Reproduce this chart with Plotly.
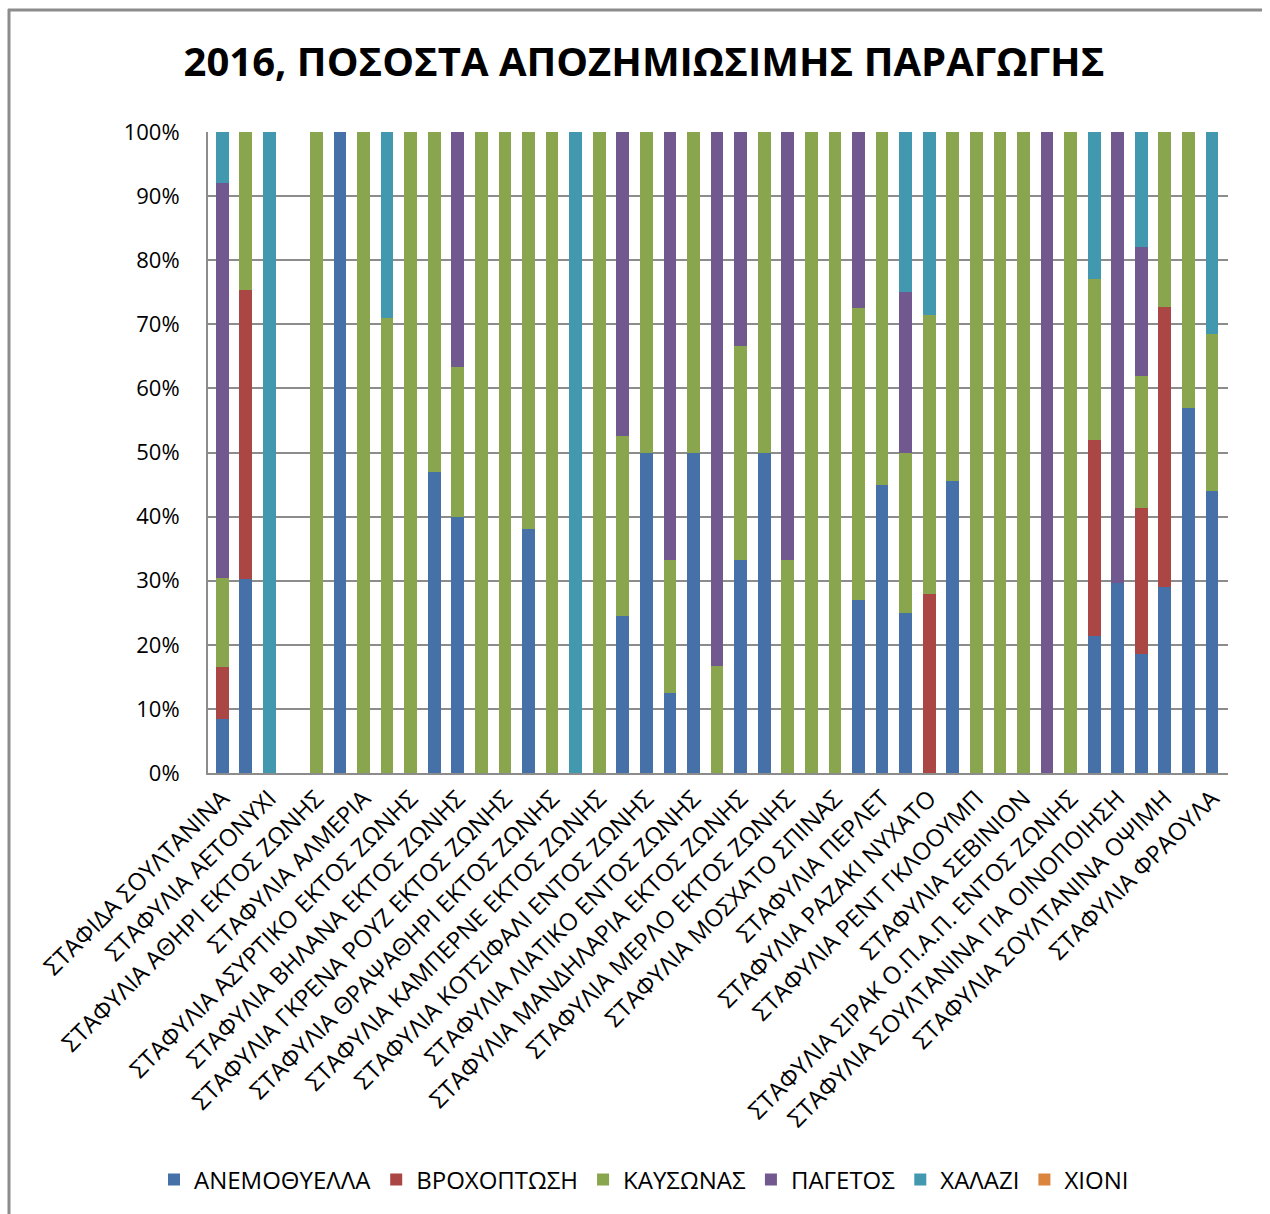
import plotly.graph_objects as go

title_text = "2016, ΠΟΣΟΣΤΑ ΑΠΟΖΗΜΙΩΣΙΜΗΣ ΠΑΡΑΓΩΓΗΣ"

categories = [
    "ΣΤΑΦΙΔΑ ΣΟΥΛΤΑΝΙΝΑ",
    "ΣΤΑΦΥΛΙΑ ΑΓΙΩΡΓΙΤΙΚΟ",
    "ΣΤΑΦΥΛΙΑ ΑΕΤΟΝΥΧΙ",
    "ΣΤΑΦΥΛΙΑ ΑΘΗΡΙ",
    "ΣΤΑΦΥΛΙΑ ΑΘΗΡΙ ΕΚΤΟΣ ΖΩΝΗΣ",
    "ΣΤΑΦΥΛΙΑ ΑΘΗΡΙ ΕΝΤΟΣ ΖΩΝΗΣ",
    "ΣΤΑΦΥΛΙΑ ΑΛΜΕΡΙΑ",
    "ΣΤΑΦΥΛΙΑ ΑΣΥΡΤΙΚΟ",
    "ΣΤΑΦΥΛΙΑ ΑΣΥΡΤΙΚΟ ΕΚΤΟΣ ΖΩΝΗΣ",
    "ΣΤΑΦΥΛΙΑ ΑΣΥΡΤΙΚΟ ΕΝΤΟΣ ΖΩΝΗΣ",
    "ΣΤΑΦΥΛΙΑ ΒΗΛΑΝΑ ΕΚΤΟΣ ΖΩΝΗΣ",
    "ΣΤΑΦΥΛΙΑ ΒΗΛΑΝΑ ΕΝΤΟΣ ΖΩΝΗΣ",
    "ΣΤΑΦΥΛΙΑ ΓΚΡΕΝΑ ΡΟΥΖ ΕΚΤΟΣ ΖΩΝΗΣ",
    "ΣΤΑΦΥΛΙΑ ΓΚΡΕΝΑ ΡΟΥΖ ΕΝΤΟΣ ΖΩΝΗΣ",
    "ΣΤΑΦΥΛΙΑ ΘΡΑΨΑΘΗΡΙ ΕΚΤΟΣ ΖΩΝΗΣ",
    "ΣΤΑΦΥΛΙΑ ΘΡΑΨΑΘΗΡΙ ΕΝΤΟΣ ΖΩΝΗΣ",
    "ΣΤΑΦΥΛΙΑ ΚΑΜΠΕΡΝΕ ΕΚΤΟΣ ΖΩΝΗΣ",
    "ΣΤΑΦΥΛΙΑ ΚΑΜΠΕΡΝΕ ΕΝΤΟΣ ΖΩΝΗΣ",
    "ΣΤΑΦΥΛΙΑ ΚΟΤΣΙΦΑΛΙ ΕΝΤΟΣ ΖΩΝΗΣ",
    "ΣΤΑΦΥΛΙΑ ΛΙΑΤΙΚΟ ΕΚΤΟΣ ΖΩΝΗΣ",
    "ΣΤΑΦΥΛΙΑ ΛΙΑΤΙΚΟ ΕΝΤΟΣ ΖΩΝΗΣ",
    "ΣΤΑΦΥΛΙΑ ΜΑΛΒΑΖΙΑ",
    "ΣΤΑΦΥΛΙΑ ΜΑΝΔΗΛΑΡΙΑ ΕΚΤΟΣ ΖΩΝΗΣ",
    "ΣΤΑΦΥΛΙΑ ΜΑΝΔΗΛΑΡΙΑ ΕΝΤΟΣ ΖΩΝΗΣ",
    "ΣΤΑΦΥΛΙΑ ΜΕΡΛΟ ΕΚΤΟΣ ΖΩΝΗΣ",
    "ΣΤΑΦΥΛΙΑ ΜΟΣΧΑΤΟ ΑΜΒΟΥΡΓΟΥ",
    "ΣΤΑΦΥΛΙΑ ΜΟΣΧΑΤΟ ΣΠΙΝΑΣ",
    "ΣΤΑΦΥΛΙΑ ΜΠΟΥΤΑΡΙ",
    "ΣΤΑΦΥΛΙΑ ΠΕΡΛΕΤ",
    "ΣΤΑΦΥΛΙΑ ΡΑΖΑΚΙ",
    "ΣΤΑΦΥΛΙΑ ΡΑΖΑΚΙ ΝΥΧΑΤΟ",
    "ΣΤΑΦΥΛΙΑ ΡΕΓΚΙΝΑ",
    "ΣΤΑΦΥΛΙΑ ΡΕΝΤ ΓΚΛΟΟΥΜΠ",
    "ΣΤΑΦΥΛΙΑ ΡΟΔΙΤΗΣ",
    "ΣΤΑΦΥΛΙΑ ΣΕΒΙΝΙΟΝ",
    "ΣΤΑΦΥΛΙΑ ΣΙΡΑΚ ΕΚΤΟΣ ΖΩΝΗΣ",
    "ΣΤΑΦΥΛΙΑ ΣΙΡΑΚ Ο.Π.Α.Π. ΕΝΤΟΣ ΖΩΝΗΣ",
    "ΣΤΑΦΥΛΙΑ ΣΟΥΛΤΑΝΙΝΑ",
    "ΣΤΑΦΥΛΙΑ ΣΟΥΛΤΑΝΙΝΑ ΓΙΑ ΟΙΝΟΠΟΙΗΣΗ",
    "ΣΤΑΦΥΛΙΑ ΣΟΥΛΤΑΝΙΝΑ ΚΑΝΟΝΙΚΗ",
    "ΣΤΑΦΥΛΙΑ ΣΟΥΛΤΑΝΙΝΑ ΟΨΙΜΗ",
    "ΣΤΑΦΥΛΙΑ ΣΟΥΛΤΑΝΙΝΑ ΠΡΩΙΜΗ",
    "ΣΤΑΦΥΛΙΑ ΦΡΑΟΥΛΑ",
]

# percentage share of each cause per category
anemothyella = [8.5, 30.3, 0, 0, 0, 100, 0, 0, 0, 47, 40, 0, 0, 38, 0, 0, 0, 24.5, 50, 12.5, 50,
                0, 33.3, 50, 0, 0, 0, 27, 45, 25, 0, 45.5, 0, 0, 0, 0, 0, 21.3, 29.7, 18.5, 29, 57, 44]
vroxoptosi = [8, 45, 0, 0, 0, 0, 0, 0, 0, 0, 0, 0, 0, 0, 0, 0, 0, 0, 0, 0, 0,
              0, 0, 0, 0, 0, 0, 0, 0, 0, 28, 0, 0, 0, 0, 0, 0, 30.7, 0, 22.8, 43.7, 0, 0]
kausonas = [14, 24.7, 0, 0, 100, 0, 100, 71, 100, 53, 23.3, 100, 100, 62, 100, 0, 100, 28, 50, 20.8, 50,
            16.7, 33.3, 50, 33.3, 100, 100, 45.5, 55, 25, 43.5, 54.5, 100, 100, 100, 0, 100, 25, 0, 20.7, 27.3, 43, 24.5]
pagetos = [61.5, 0, 0, 0, 0, 0, 0, 0, 0, 0, 36.7, 0, 0, 0, 0, 0, 0, 47.5, 0, 66.7, 0,
           83.3, 33.4, 0, 66.7, 0, 0, 27.5, 0, 25, 0, 0, 0, 0, 0, 100, 0, 0, 70.3, 20, 0, 0, 0]
xalazi = [8, 0, 100, 0, 0, 0, 0, 29, 0, 0, 0, 0, 0, 0, 0, 100, 0, 0, 0, 0, 0,
          0, 0, 0, 0, 0, 0, 0, 0, 25, 28.5, 0, 0, 0, 0, 0, 0, 23, 0, 18, 0, 0, 31.5]
xioni = [0] * 43

series_names = ["ΑΝΕΜΟΘΥΕΛΛΑ", "ΒΡΟΧΟΠΤΩΣΗ", "ΚΑΥΣΩΝΑΣ", "ΠΑΓΕΤΟΣ", "ΧΑΛΑΖΙ", "ΧΙΟΝΙ"]
series_values = [anemothyella, vroxoptosi, kausonas, pagetos, xalazi, xioni]
series_colors = ["#4570A8", "#AA4643", "#89A54E", "#71588F", "#4198AF", "#DB843D"]

y_tickvals = [0, 10, 20, 30, 40, 50, 60, 70, 80, 90, 100]
y_ticktext = ["0%", "10%", "20%", "30%", "40%", "50%", "60%", "70%", "80%", "90%", "100%"]

FONT = "Open Sans, Noto Sans, DejaVu Sans, sans-serif"

x_idx = list(range(len(categories)))

fig = go.Figure()
for name, vals, col in zip(series_names, series_values, series_colors):
    fig.add_trace(go.Bar(
        x=x_idx, y=vals, name=name,
        marker=dict(color=col, line=dict(width=0)),
    ))

W, H = 1270, 1214
L, R, T, B = 208, 42, 132, 441
pw = W - L - R
ph = H - T - B

def px_to_paper_x(px):
    return (px - L) / pw

def px_to_paper_y(py):
    return (H - B - py) / ph

frame_style = dict(color="#8c8c8c", width=3)

fig.update_layout(
    width=W, height=H,
    barmode="stack",
    bargap=0.46,
    plot_bgcolor="white",
    paper_bgcolor="white",
    margin=dict(l=L, r=R, t=T, b=B, autoexpand=False),
    font=dict(family=FONT, color="black", size=22),
    title=dict(
        text="<b>" + title_text + "</b>",
        font=dict(family=FONT, size=40, color="black"),
        x=644 / W, xanchor="center",
        y=1 - 62 / H, yanchor="middle",
        xref="container", yref="container",
    ),
    xaxis=dict(
        range=[-0.6, 42.68],
        tickmode="array",
        tickvals=x_idx[::2],
        ticktext=categories[::2],
        tickangle=-45,
        tickfont=dict(family=FONT, size=24),
        showgrid=False,
        showline=True, linecolor="#8c8c8c", linewidth=2,
        ticks="", zeroline=False,
    ),
    yaxis=dict(
        range=[0, 100],
        tickmode="array",
        tickvals=y_tickvals,
        ticktext=y_ticktext,
        tickfont=dict(family=FONT, size=22),
        showgrid=True, gridcolor="#8c8c8c", gridwidth=2,
        showline=True, linecolor="#8c8c8c", linewidth=2,
        ticks="", ticklen=0,
        zeroline=False,
        ticklabelstandoff=22,
    ),
    legend=dict(
        orientation="h",
        traceorder="normal",
        x=px_to_paper_x(644), xanchor="center",
        y=px_to_paper_y(1180), yanchor="middle",
        font=dict(family=FONT, size=24),
        itemclick=False,
    ),
    shapes=[
        dict(type="line", xref="paper", yref="paper",
             x0=px_to_paper_x(9), x1=px_to_paper_x(9),
             y0=px_to_paper_y(1214), y1=px_to_paper_y(9),
             line=frame_style, layer="below"),
        dict(type="line", xref="paper", yref="paper",
             x0=px_to_paper_x(8), x1=px_to_paper_x(1262),
             y0=px_to_paper_y(10), y1=px_to_paper_y(10),
             line=frame_style, layer="below"),
    ],
)

fig.write_html(
    "out.html",
    config={"displayModeBar": False},
    post_script="document.body.style.margin='0';document.body.style.overflow='hidden';",
)
